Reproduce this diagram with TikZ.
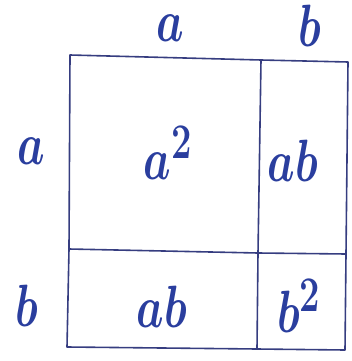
\documentclass[tikz,border=0pt]{standalone}
\usepackage{graphicx}
\definecolor{ink}{HTML}{2A3E9E}
\definecolor{pen}{HTML}{363D80}
\tikzset{
  lbl/.style={text=ink, inner sep=0pt, font=\Huge\boldmath},
  edge/.style={draw=pen, line width=1.6pt, line cap=round, line join=round}
}
\newcommand{\hw}[1]{\scalebox{1.75}[2.4]{$#1$}}
\begin{document}
\begin{tikzpicture}[x=1pt,y=-1pt]
\useasboundingbox (0,0) rectangle (351,361);
% corners
\coordinate (tl) at (70,55);
\coordinate (tm) at (261,60);
\coordinate (tr) at (348,62);
\coordinate (ml) at (69,249);
\coordinate (mm) at (258,253);
\coordinate (mr) at (346,254);
\coordinate (bl) at (67,347);
\coordinate (bm) at (257,349);
\coordinate (br) at (345,350);
\draw[edge] (tl) -- (tm) -- (tr) -- (mr) -- (br) -- (bm) -- (bl) -- (ml) -- cycle;
\draw[edge] (tm) -- (mm) -- (bm);
\draw[edge] (ml) -- (mm) -- (mr);
% labels
\node[lbl] (ta) at (170,28) {\hw{a}};
\node[lbl] (tb) at (310,26) {\hw{b}};
\node[lbl] (la) at (31,151) {\hw{a}};
\node[lbl] (lb) at (27,306) {\hw{b}};
\node[lbl] (c1) at (168,153) {\hw{a^2}};
\node[lbl] (c2) at (293,161) {\hw{ab}};
\node[lbl] (c3) at (162,307) {\hw{ab}};
\node[lbl] (c4) at (299,306) {\hw{b^2}};
\end{tikzpicture}
\end{document}
